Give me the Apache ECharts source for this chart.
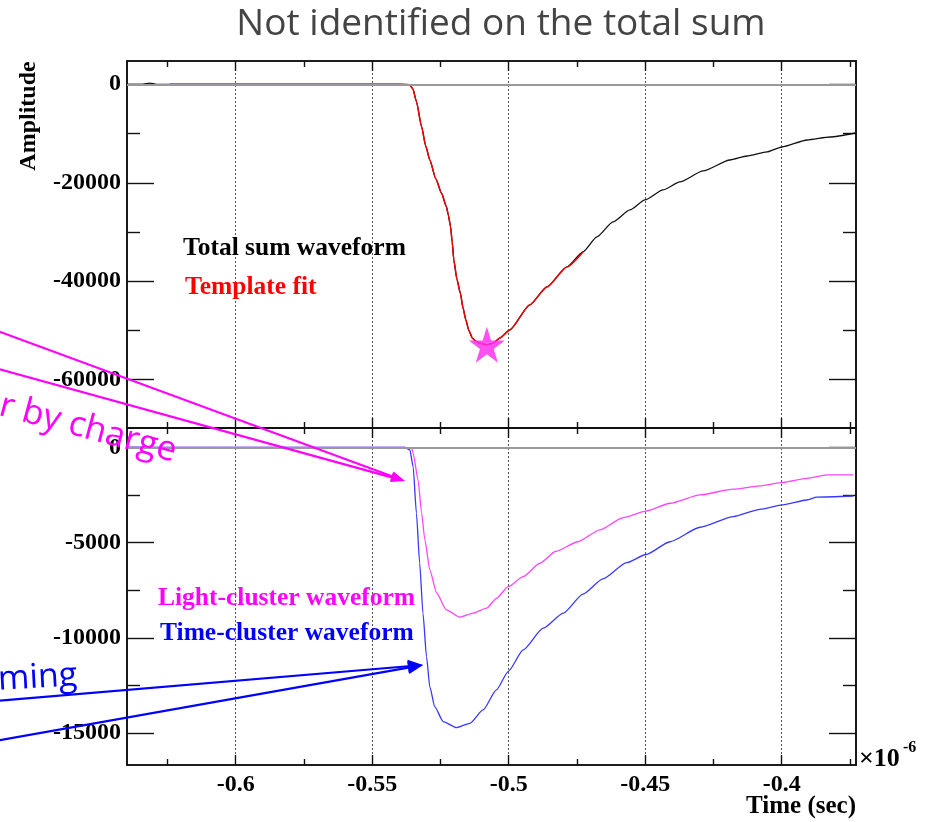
<!DOCTYPE html>
<html><head><meta charset="utf-8">
<script src="https://cdn.jsdelivr.net/npm/echarts@6/dist/echarts.min.js"></script>
<style>html,body{margin:0;padding:0;background:#fff}#c{width:928px;height:822px}</style>
</head><body><div id="c"></div>
<script>
// ---- data (time in units of 1e-6 s) ----
const xMin = -0.6398, xMax = -0.3728;
const xMajorTicks = [-0.6, -0.55, -0.5, -0.45, -0.4];
const xMinorTicks = [-0.625, -0.575, -0.525, -0.475, -0.425, -0.375];
const xTickLabels = ['-0.6', '-0.55', '-0.5', '-0.45', '-0.4'];
const topYMin = -69800, topYMax = 4730;
const topYMajor = [0, -20000, -40000, -60000];
const topYMinor = [-10000, -30000, -50000];
const botYMin = -16670, botYMax = 1020;
const botYMajor = [0, -5000, -10000, -15000];
const botYMinor = [-2500, -7500, -12500];

const sumTime = [-0.6399,-0.6341,-0.6315,-0.6290,-0.6132,-0.5765,-0.5399,-0.5370,-0.5362,-0.5351,-0.5338,-0.5319,-0.5304,-0.5289,-0.5267,-0.5246,-0.5228,-0.5221,-0.5213,-0.5207,-0.5201,-0.5190,-0.5177,-0.5167,-0.5157,-0.5146,-0.5133,-0.5120,-0.5106,-0.5080,-0.5058,-0.5032,-0.4996,-0.4923,-0.4860,-0.4787,-0.4728,-0.4677,-0.4618,-0.4556,-0.4501,-0.4435,-0.4373,-0.4288,-0.4190,-0.4127,-0.4054,-0.3999,-0.3907,-0.3823,-0.3731];
const sumAmp = [0,0,250,0,0,0,0,-50,-150,-900,-3500,-8610,-12500,-15370,-19200,-22130,-24850,-26600,-28910,-32000,-35670,-39500,-42430,-45500,-47850,-50000,-51560,-52200,-52580,-52920,-52600,-51500,-49880,-44800,-41150,-37090,-34040,-31000,-27950,-25520,-23490,-21460,-19830,-17600,-15370,-14560,-13740,-12730,-11310,-10700,-9890];

const fitTime = [-0.6242,-0.6132,-0.5765,-0.5399,-0.5370,-0.5362,-0.5351,-0.5338,-0.5319,-0.5304,-0.5289,-0.5267,-0.5246,-0.5228,-0.5221,-0.5213,-0.5207,-0.5201,-0.5190,-0.5177,-0.5167,-0.5157,-0.5146,-0.5133,-0.5120,-0.5106,-0.5080,-0.5058,-0.5032,-0.4996,-0.4923,-0.4860,-0.4787,-0.4728];
const fitAmp = [0,0,0,0,-50,-150,-900,-3500,-8610,-12500,-15370,-19200,-22130,-24850,-26600,-28910,-32000,-35670,-39500,-42430,-45500,-47850,-50000,-51560,-52200,-52580,-52920,-52600,-51500,-49880,-44800,-41150,-37090,-34040];

const starTime = [-0.5080];
const starAmp = [-52900];

const lightTime = [-0.6399,-0.6132,-0.5765,-0.5381,-0.5355,-0.5350,-0.5332,-0.5319,-0.5307,-0.5289,-0.5264,-0.5228,-0.5179,-0.5130,-0.5081,-0.5045,-0.5002,-0.4947,-0.4886,-0.4827,-0.4747,-0.4666,-0.4581,-0.4497,-0.4409,-0.4299,-0.4177,-0.4080,-0.3996,-0.3908,-0.3835,-0.3738];
const lightAmp = [0,0,0,0,-50,-310,-1710,-3440,-4860,-6430,-7640,-8530,-8910,-8700,-8440,-7920,-7310,-6780,-6080,-5450,-4950,-4330,-3680,-3340,-2930,-2490,-2190,-2020,-1830,-1620,-1440,-1440];

const timeTime = [-0.6399,-0.6132,-0.5765,-0.5381,-0.5362,-0.5350,-0.5338,-0.5326,-0.5314,-0.5301,-0.5289,-0.5271,-0.5240,-0.5191,-0.5142,-0.5094,-0.5045,-0.5002,-0.4947,-0.4874,-0.4800,-0.4728,-0.4655,-0.4568,-0.4497,-0.4409,-0.4299,-0.4177,-0.4080,-0.3996,-0.3908,-0.3872,-0.3738];
const timeAmp = [0,0,0,0,-130,-1010,-3450,-6080,-8700,-10980,-12560,-13610,-14390,-14710,-14480,-13780,-12730,-11770,-10630,-9490,-8700,-7700,-6900,-6050,-5620,-4950,-4190,-3630,-3250,-3020,-2760,-2610,-2550];

// ---- build ----
const pairs = (xs, ys) => xs.map((x, i) => [x, ys[i]]);
const SERIF = 'Liberation Serif';
const FRAME = '#111';

function xAxisDef(gi, pos, ticks, len, extra) {
  return Object.assign({
    type: 'value', gridIndex: gi, position: pos, min: xMin, max: xMax,
    axisLine: { show: true, onZero: false, lineStyle: { color: FRAME, width: 1.6 } },
    axisTick: { show: true, inside: true, length: len, customValues: ticks, lineStyle: { color: FRAME, width: 1.4 } },
    axisLabel: { show: false },
    splitLine: { show: false }
  }, extra || {});
}
function yAxisDef(gi, pos, mn, mx, ticks, len, extra) {
  return Object.assign({
    type: 'value', gridIndex: gi, position: pos, min: mn, max: mx,
    axisLine: { show: true, onZero: false, lineStyle: { color: FRAME, width: 1.6 } },
    axisTick: { show: true, inside: true, length: len, customValues: ticks, lineStyle: { color: FRAME, width: 1.4 } },
    axisLabel: { show: false },
    splitLine: { show: false }
  }, extra || {});
}
const gridSplit = { show: true, lineStyle: { color: '#555', width: 1, type: [2, 2] } };
const xLabel = {
  show: true, customValues: xMajorTicks, margin: 8,
  fontFamily: SERIF, fontWeight: 'bold', fontSize: 24, color: '#000',
  formatter: v => { const i = xMajorTicks.findIndex(t => Math.abs(t - v) < 1e-9); return i >= 0 ? xTickLabels[i] : ''; }
};
function yLabel(vals) {
  return { show: true, customValues: vals, margin: 6, fontFamily: SERIF, fontWeight: 'bold', fontSize: 24, color: '#000', formatter: v => String(Math.round(v)) };
}

function arrow(x0, y0, x1, y1, color, len, half, w) {
  const dx = x1 - x0, dy = y1 - y0, L = Math.hypot(dx, dy), ux = dx / L, uy = dy / L;
  const bx = x1 - ux * len, by = y1 - uy * len;
  return [
    { type: 'line', silent: true, z: 100, shape: { x1: x0, y1: y0, x2: bx + ux * 3, y2: by + uy * 3 }, style: { stroke: color, lineWidth: w } },
    { type: 'polygon', silent: true, z: 100, shape: { points: [[x1, y1], [bx - uy * half, by + ux * half], [bx + uy * half, by - ux * half]] }, style: { fill: color } }
  ];
}
function txt(x, y, text, size, color, opts) {
  return Object.assign({ type: 'text', silent: true, z: 100, x: x, y: y,
    style: Object.assign({ text: text, fontFamily: SERIF, fontWeight: 'bold', fontSize: size, fill: color, align: 'left', verticalAlign: 'middle' }, (opts && opts.style) || {}) },
    (opts && opts.el) || {});
}

const chart = echarts.init(document.getElementById('c'), null, { renderer: 'canvas' });
const zeroLine = { silent: true, symbol: ['none', 'none'], label: { show: false }, lineStyle: { color: '#999', width: 2, type: 'solid' }, data: [{ yAxis: 0 }], animation: false };
const starPath = 'path://M50,0 L61.2,34.5 L97.6,34.5 L68.2,55.9 L79.4,90.5 L50,69.1 L20.6,90.5 L31.8,55.9 L2.4,34.5 L38.8,34.5 Z';
const SM = 0.2;

chart.setOption({
  animation: false,
  backgroundColor: '#fff',
  grid: [
    { left: 127, right: 72, top: 61, height: 367, outerBoundsMode: 'none' },
    { left: 127, right: 72, top: 428, height: 337, outerBoundsMode: 'none' }
  ],
  xAxis: [
    xAxisDef(0, 'bottom', xMajorTicks, 10, { splitLine: gridSplit }),
    xAxisDef(0, 'bottom', xMinorTicks, 6),
    xAxisDef(0, 'top', xMajorTicks, 10),
    xAxisDef(0, 'top', xMinorTicks, 6),
    xAxisDef(1, 'bottom', xMajorTicks, 10, { splitLine: gridSplit, axisLabel: xLabel }),
    xAxisDef(1, 'bottom', xMinorTicks, 6),
    xAxisDef(1, 'top', xMajorTicks, 10),
    xAxisDef(1, 'top', xMinorTicks, 6)
  ],
  yAxis: [
    yAxisDef(0, 'left', topYMin, topYMax, topYMajor, 27, { axisLabel: yLabel(topYMajor) }),
    yAxisDef(0, 'left', topYMin, topYMax, topYMinor, 13),
    yAxisDef(0, 'right', topYMin, topYMax, topYMajor, 27),
    yAxisDef(0, 'right', topYMin, topYMax, topYMinor, 13),
    yAxisDef(1, 'left', botYMin, botYMax, botYMajor, 27, { axisLabel: yLabel(botYMajor) }),
    yAxisDef(1, 'left', botYMin, botYMax, botYMinor, 13),
    yAxisDef(1, 'right', botYMin, botYMax, botYMajor, 27),
    yAxisDef(1, 'right', botYMin, botYMax, botYMinor, 13)
  ],
  series: [
    { name: 'Total sum waveform', type: 'line', xAxisIndex: 0, yAxisIndex: 0, data: pairs(sumTime, sumAmp), showSymbol: false, symbol: 'none',
      smooth: SM, smoothMonotone: 'x', lineStyle: { color: '#111', width: 1.3 }, markLine: zeroLine, z: 3 },
    { name: 'Template fit', type: 'line', xAxisIndex: 0, yAxisIndex: 0, data: pairs(fitTime, fitAmp), showSymbol: false, symbol: 'none',
      smooth: SM, smoothMonotone: 'x', lineStyle: { color: '#ee0000', width: 1.5 }, z: 4 },
    { name: 'Fit peak', type: 'scatter', xAxisIndex: 0, yAxisIndex: 0, data: pairs(starTime, starAmp), symbol: starPath, symbolSize: 36,
      itemStyle: { color: '#ff33ee', opacity: 0.85 }, z: 5 },
    { name: 'Light-cluster waveform', type: 'line', xAxisIndex: 4, yAxisIndex: 4, data: pairs(lightTime, lightAmp), showSymbol: false, symbol: 'none',
      smooth: SM, smoothMonotone: 'x', lineStyle: { color: '#ff44ff', width: 1.3 }, markLine: zeroLine, z: 3 },
    { name: 'Time-cluster waveform', type: 'line', xAxisIndex: 4, yAxisIndex: 4, data: pairs(timeTime, timeAmp), showSymbol: false, symbol: 'none',
      smooth: SM, smoothMonotone: 'x', lineStyle: { color: '#3838ff', width: 1.3 }, z: 4 }
  ],
  graphic: [
    txt(501, 24, 'Not identified on the total sum', 37, '#444', { style: { fontFamily: 'Open Sans', fontWeight: 'normal', align: 'center' } }),
    txt(29, 116, 'Amplitude', 24, '#000', { style: { align: 'center' }, el: { rotation: Math.PI / 2 } }),
    txt(856, 807, 'Time (sec)', 25, '#000', { style: { align: 'right' } }),
    txt(859, 759, '×10', 26, '#000'),
    txt(903, 748, '-6', 16, '#000'),
    txt(183, 248.5, 'Total sum waveform', 25.5, '#000'),
    txt(185, 287.5, 'Template fit', 25.5, '#ff0000'),
    txt(158, 598.5, 'Light-cluster waveform', 25.5, '#ff00ff'),
    txt(160, 633.5, 'Time-cluster waveform', 25.5, '#0000ff'),
    txt(0, 405, 'r by charge', 35, '#ff00ff', { style: { fontFamily: 'Open Sans', fontWeight: 'normal' }, el: { rotation: -15 * Math.PI / 180 } }),
    txt(-2, 680, 'ming', 34, '#0000ff', { style: { fontFamily: 'Open Sans', fontWeight: 'normal' }, el: { rotation: 3 * Math.PI / 180 } }),
    ...arrow(-5, 330, 405, 481, '#ff00ff', 14, 5, 2.2),
    ...arrow(-5, 368, 405, 481, '#ff00ff', 14, 5, 2.2),
    ...arrow(-5, 701, 423, 665, '#0000ff', 15, 6.5, 2.2),
    ...arrow(-5, 741, 423, 665, '#0000ff', 15, 6.5, 2.2)
  ]
});
</script></body></html>
